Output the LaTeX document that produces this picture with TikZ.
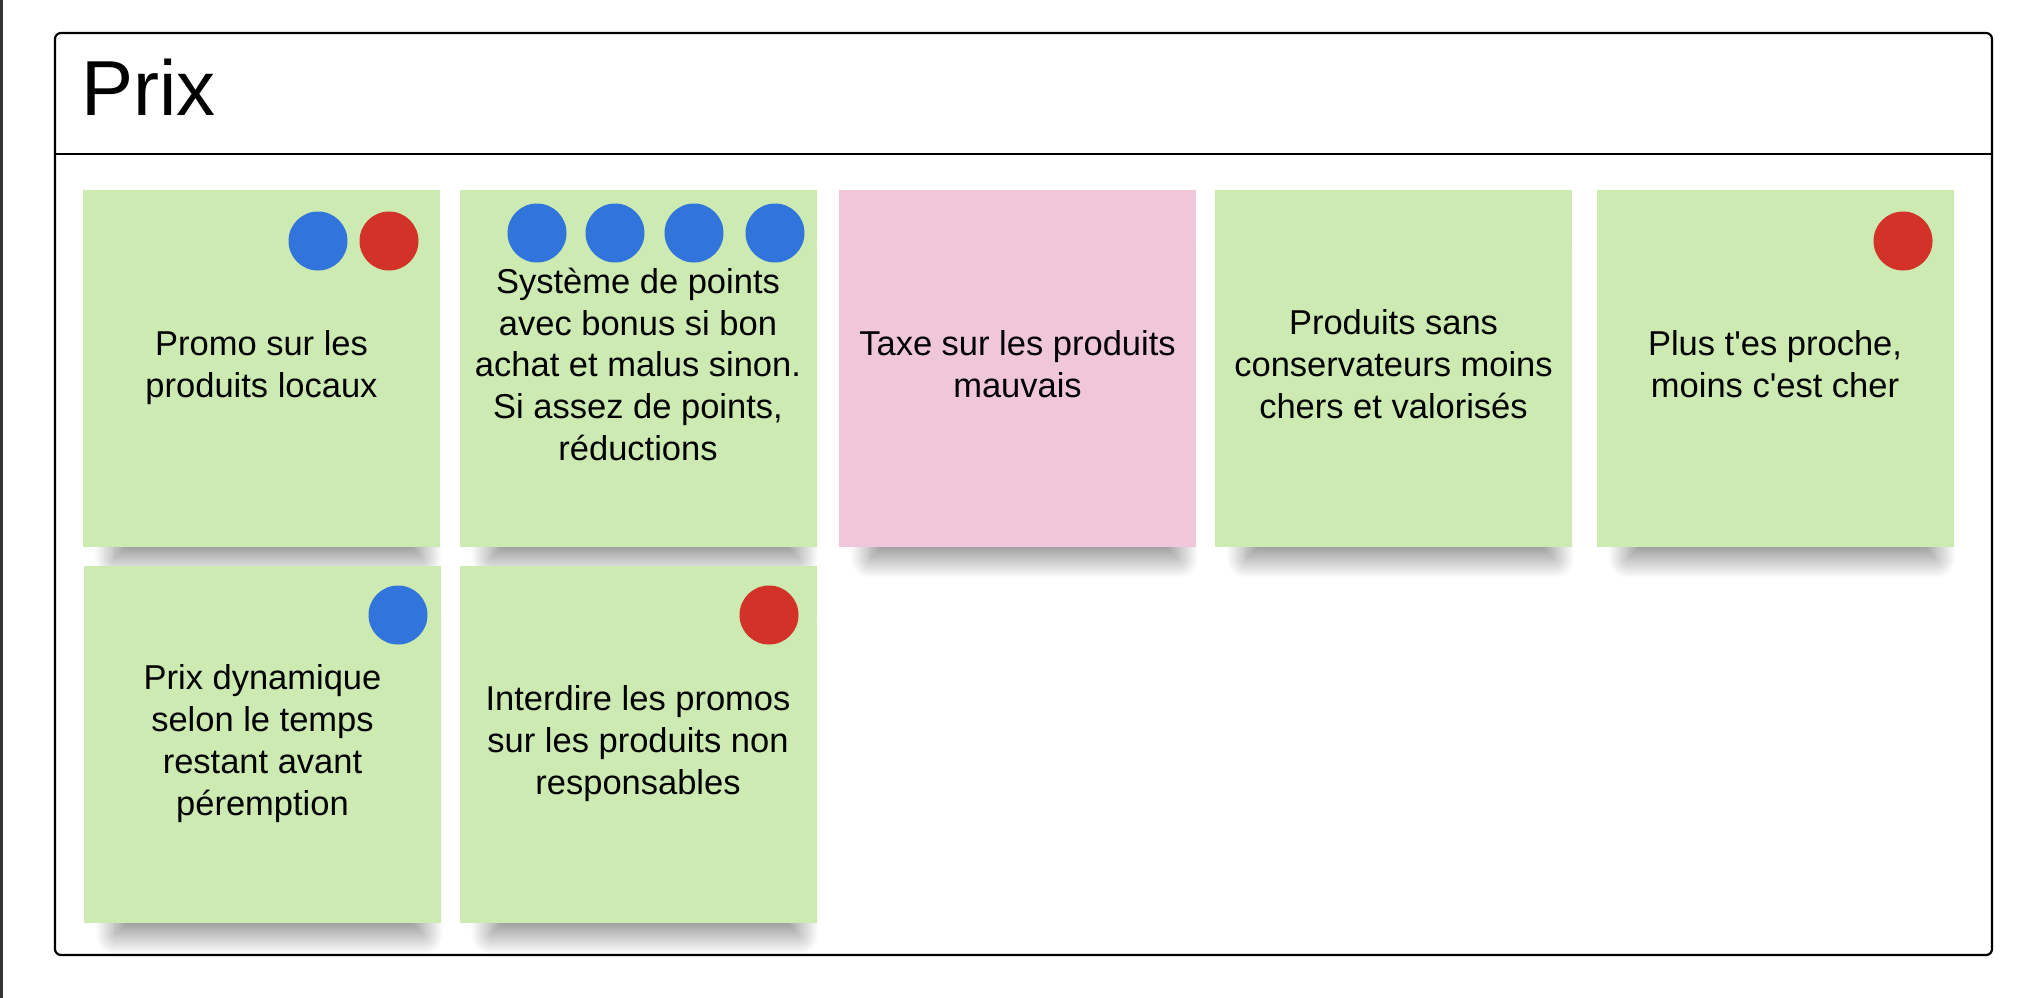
\documentclass[tikz,border=0pt]{standalone}
\usepackage{fontspec}
\setmainfont{Liberation Sans}
\usetikzlibrary{shadows.blur}
\definecolor{notegreen}{HTML}{CCEAB1}
\definecolor{notepink}{HTML}{F0C7D9}
\definecolor{voteblue}{HTML}{3174DB}
\definecolor{votered}{HTML}{D33228}
\definecolor{edgegray}{HTML}{333333}
\begin{document}
\begin{tikzpicture}[x=1pt,y=-1pt]
	\useasboundingbox(0,0)rectangle(2042,998);
	\tikzset{note/.style={rectangle,fill=notegreen,minimum width=357pt,minimum height=357pt,inner sep=0pt,align=center,
		font=\fontsize{34.5}{41.7}\selectfont,execute at end node={\rule[-9pt]{0pt}{0pt}},
		blur shadow={shadow xshift=8pt,shadow yshift=-42pt,shadow scale=.86,shadow blur radius=24pt,shadow blur steps=30,shadow opacity=48}},
		vote/.style={circle,minimum size=59pt,inner sep=0pt}}
	\fill[edgegray](0,0)rectangle(3.3,998);
	\draw[line width=2.2pt,rounded corners=6pt](55,33)rectangle(1992,955);
	\draw[line width=2.2pt](55,154)--(1992,154);
	\node(title)[anchor=base west,inner sep=0pt,font=\fontsize{78}{90}\selectfont]at(81,115){Prix};
	% first row
	\node(n1)[note]at(261.5,368.5){Promo sur les\\produits locaux};
	\node(n2)[note]at(638,368.5){Système de points\\avec bonus si bon\\achat et malus sinon.\\Si assez de points,\\réductions};
	\node(n3)[note,fill=notepink]at(1017.5,368.5){Taxe sur les produits\\mauvais};
	\node(n4)[note]at(1393.5,368.5){Produits sans\\conservateurs moins\\chers et valorisés};
	\node(n5)[note]at(1775,368.5){Plus t\textquotesingle es proche,\\moins c\textquotesingle est cher};
	% second row
	\node(n6)[note]at(262.5,744.5){Prix dynamique\\selon le temps\\restant avant\\péremption};
	\node(n7)[note]at(638,744.5){Interdire les promos\\sur les produits non\\responsables};
	% votes
	\node(v1)[vote,fill=voteblue]at(318,241){};
	\node(v2)[vote,fill=votered]at(389,241){};
	\node(v3)[vote,fill=voteblue]at(537,233){};
	\node(v4)[vote,fill=voteblue]at(615,233){};
	\node(v5)[vote,fill=voteblue]at(694,233){};
	\node(v6)[vote,fill=voteblue]at(775,233){};
	\node(v7)[vote,fill=votered]at(1903,241){};
	\node(v8)[vote,fill=voteblue]at(398,615){};
	\node(v9)[vote,fill=votered]at(769,615){};
\end{tikzpicture}
\end{document}
